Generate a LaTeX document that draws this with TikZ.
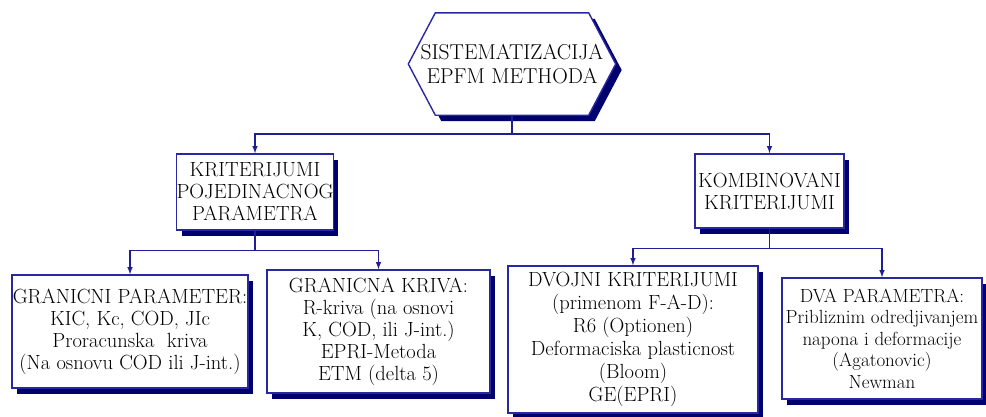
\documentclass[tikz,border=0pt]{standalone}
\usetikzlibrary{shadows,backgrounds}

\definecolor{boxline}{RGB}{40,40,160}
\definecolor{connline}{RGB}{30,30,150}
\definecolor{shadowblue}{RGB}{0,0,110}

\begin{document}
\begin{tikzpicture}[x=1pt,y=-1pt,
    box/.style={draw=boxline, line width=1.4pt, fill=white, align=center, inner sep=0pt,
      font=\fontsize{20.5}{22}\selectfont,
      drop shadow={shadow xshift=5pt, shadow yshift=-6pt, fill=shadowblue, opacity=1}},
    hexagon/.style={draw=boxline, line width=1.4pt, fill=white,
      preaction={fill=shadowblue, transform canvas={xshift=6pt, yshift=-6pt}}},
    conn/.style={draw=connline, line width=1.5pt, -latex}]
  \useasboundingbox (0,0) rectangle (986,416);

  % top level
  \node[align=center, inner sep=0pt, minimum width=207pt, minimum height=102pt,
    font=\fontsize{21.5}{24}\selectfont] (top) at (512,64) {SISTEMATIZACIJA\\EPFM METHODA};
  \begin{scope}[on background layer]
    \path[hexagon] ([xshift=27pt]top.north west) -- ([xshift=-27pt]top.north east)
      -- (top.east) -- ([xshift=-27pt]top.south east)
      -- ([xshift=27pt]top.south west) -- (top.west) -- cycle;
  \end{scope}

  % second level
  \node[box, minimum width=156pt, minimum height=76pt] (kp) at (255,192)
    {KRITERIJUMI\\POJEDINACNOG\\PARAMETRA};
  \node[box, minimum width=149pt, minimum height=74pt] (kk) at (769.5,191)
    {KOMBINOVANI\\KRITERIJUMI};

  % third level
  \node[box, minimum width=236pt, minimum height=113pt] (gp) at (130,331.5)
    {GRANICNI PARAMETER:\\KIC, Kc, COD, JIc\\Proracunska~~kriva\\(Na osnovu COD ili J-int.)};
  \node[box, minimum width=223pt, minimum height=123pt] (gk) at (378.5,331.5)
    {GRANICNA KRIVA:\\R-kriva (na osnovi\\K, COD, ili J-int.)\\EPRI-Metoda\\ETM (delta 5)};
  \node[box, minimum width=250pt, minimum height=147pt, font=\fontsize{20.5}{23}\selectfont] (dk) at (633,339.5)
    {DVOJNI KRITERIJUMI\\(primenom F-A-D):\\R6 (Optionen)\\Deformaciska plasticnost\\(Bloom)\\GE(EPRI)};
  \node[box, minimum width=200pt, minimum height=121pt, font=\fontsize{19}{21.5}\selectfont] (dp) at (882,338.5)
    {DVA PARAMETRA:\\Pribliznim odredjivanjem\\napona i deformacije\\(Agatonovic)\\Newman};

  \draw[conn] (top.south) -- ++(0,19) -| (kp.north);
  \draw[conn] (top.south) -- ++(0,19) -| (kk.north);
  \draw[conn] (kp.south) -- ++(0,20) -| (gp.north);
  \draw[conn] (kp.south) -- ++(0,20) -| (gk.north);
  \draw[conn] (kk.south) -- ++(0,20) -| (dk.north);
  \draw[conn] (kk.south) -- ++(0,20) -| (dp.north);
\end{tikzpicture}
\end{document}
